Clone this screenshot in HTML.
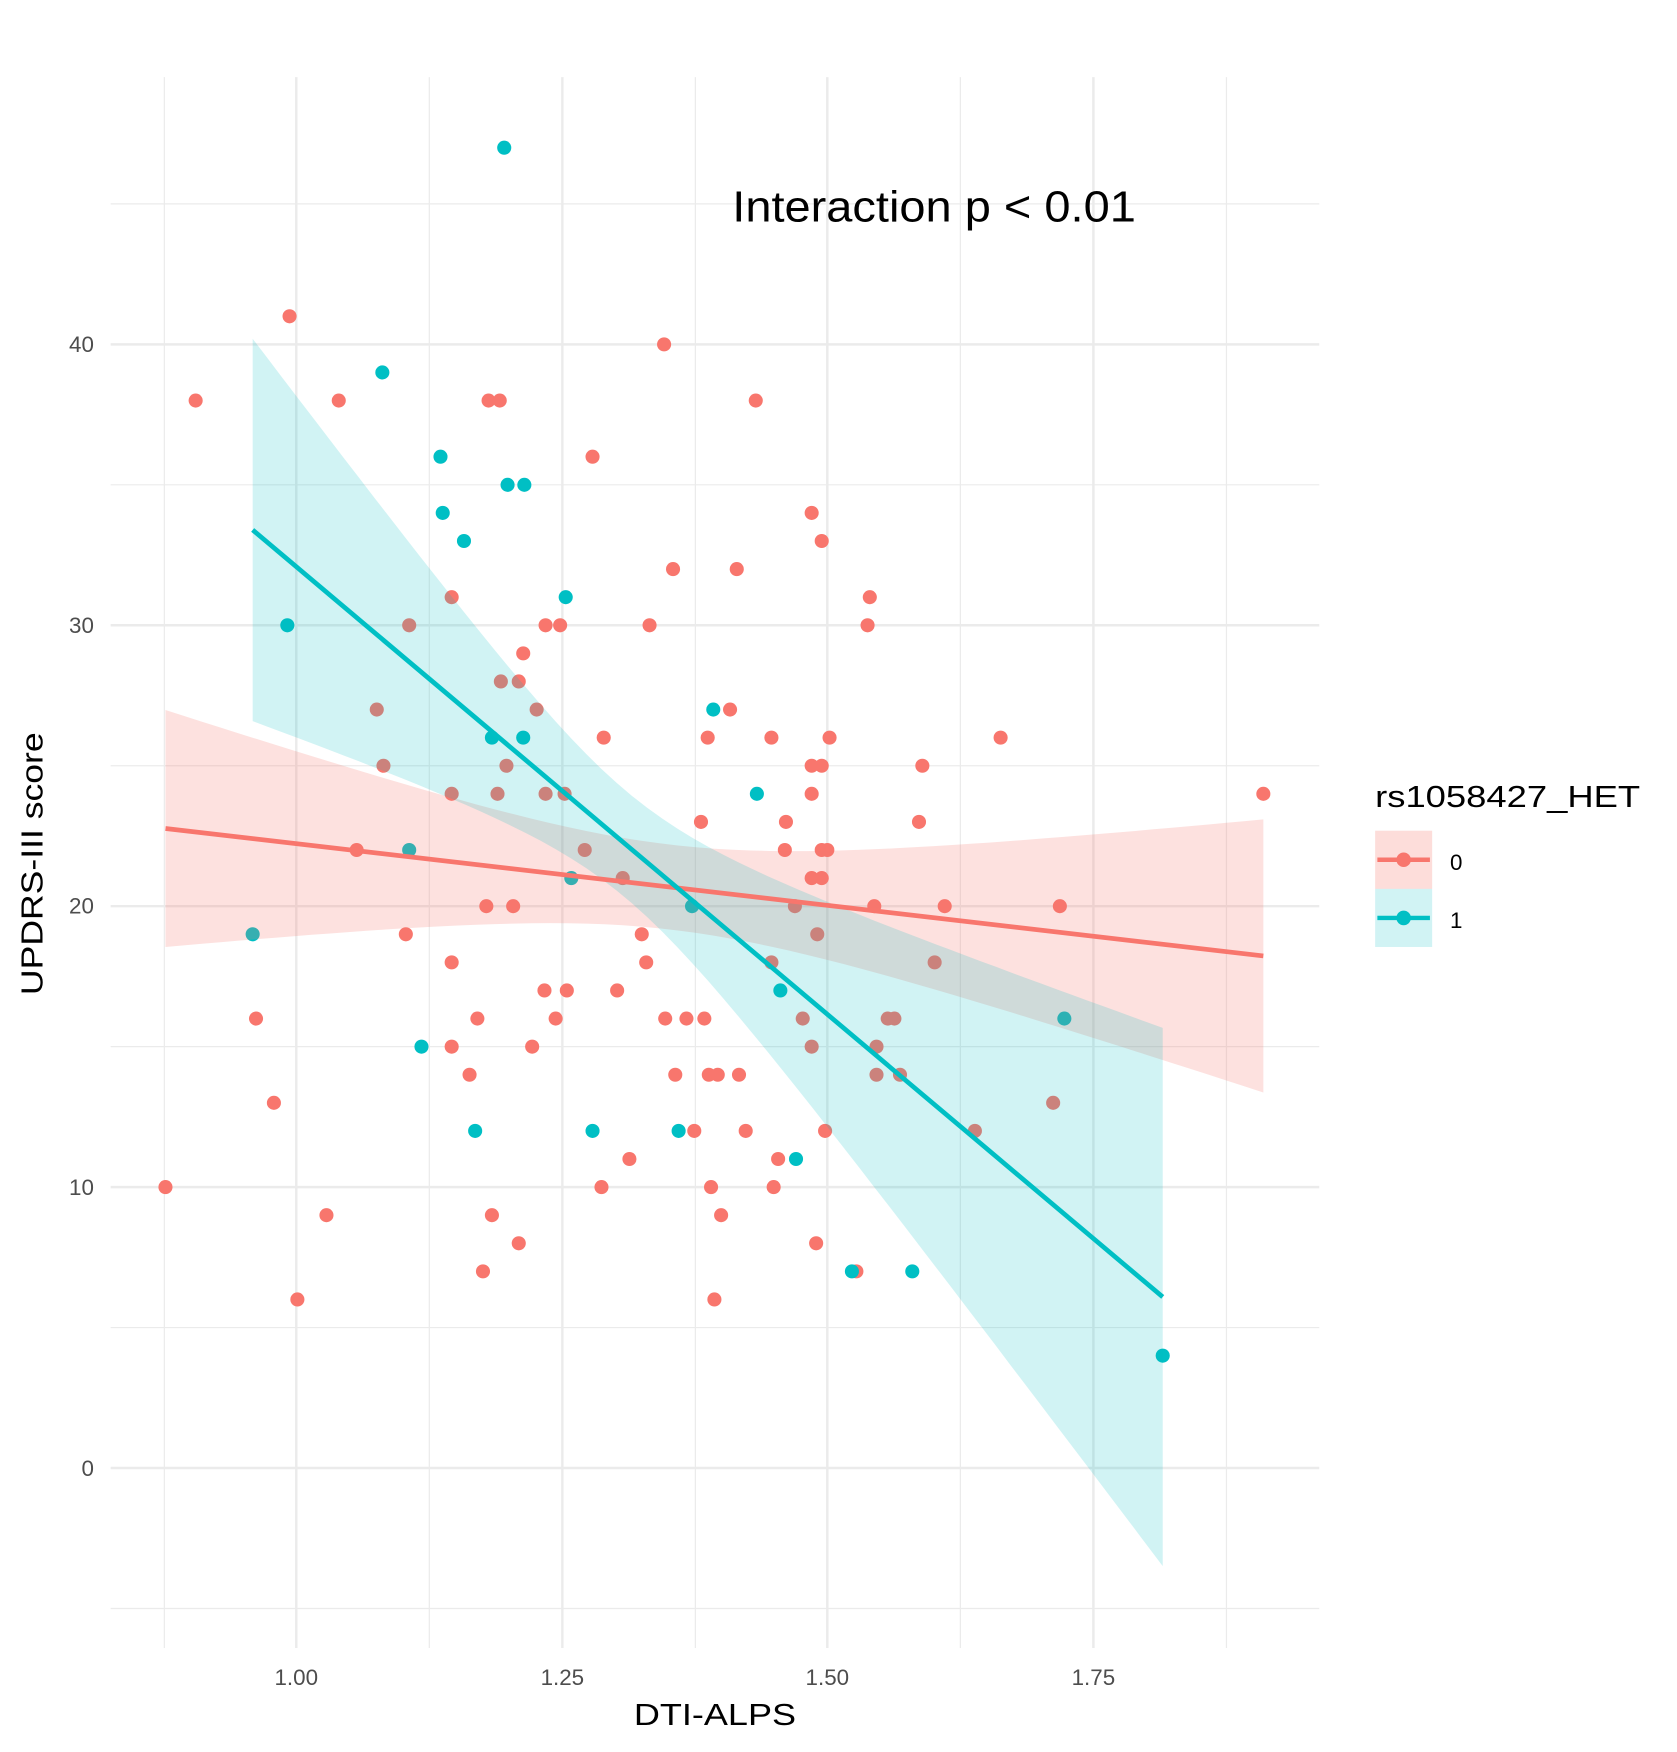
<!DOCTYPE html>
<html><head><meta charset="utf-8"><style>
html,body{margin:0;padding:0;background:#fff;}
svg{display:block;font-family:"Liberation Sans",Arial,sans-serif;}
</style></head><body>
<svg id="s" width="1677" height="1752" viewBox="0 0 1500 1567" preserveAspectRatio="none" xmlns="http://www.w3.org/2000/svg">
<g id="grid"></g>
<g id="pts"></g>
<g id="rib"></g>
<g id="lines"></g>
<text x="655" y="198" font-size="39" fill="#000" textLength="361" lengthAdjust="spacingAndGlyphs">Interaction p &lt; 0.01</text>
<g font-size="20" fill="#4d4d4d" text-anchor="end">
<text x="84" y="1320">0</text>
<text x="84" y="1069">10</text>
<text x="84" y="817">20</text>
<text x="84" y="566">30</text>
<text x="84" y="315">40</text>
</g>
<g font-size="20" fill="#4d4d4d" text-anchor="middle">
<text x="265" y="1507">1.00</text>
<text x="503" y="1507">1.25</text>
<text x="740" y="1507">1.50</text>
<text x="978" y="1507">1.75</text>
</g>
<text x="567" y="1543" font-size="27" fill="#000" textLength="145" lengthAdjust="spacingAndGlyphs">DTI-ALPS</text>
<text transform="translate(38,890) rotate(-90)" font-size="27" fill="#000" textLength="235" lengthAdjust="spacingAndGlyphs">UPDRS-III score</text>
<text x="1230" y="722" font-size="27" fill="#000" textLength="237" lengthAdjust="spacingAndGlyphs">rs1058427_HET</text>
<rect x="1230" y="743" width="51" height="52" fill="#F8766D" fill-opacity="0.25"/>
<rect x="1230" y="795" width="51" height="52" fill="#00BFC4" fill-opacity="0.18"/>
<line x1="1232" y1="769" x2="1279" y2="769" stroke="#F8766D" stroke-width="4"/>
<circle cx="1255.5" cy="769" r="6.5" fill="#F8766D"/>
<line x1="1232" y1="821" x2="1279" y2="821" stroke="#00BFC4" stroke-width="4"/>
<circle cx="1255.5" cy="821" r="6.5" fill="#00BFC4"/>
<text x="1297" y="778" font-size="20" fill="#000">0</text>
<text x="1297" y="830" font-size="20" fill="#000">1</text>
</svg>
<script>
var NS="http://www.w3.org/2000/svg";
function el(p,t,a){var e=document.createElementNS(NS,t);for(var k in a)e.setAttribute(k,a[k]);document.getElementById(p).appendChild(e);return e;}
function Y(s){return 1313-s*25.125;}
[147,384,622,859,1097].forEach(function(x){el("grid","line",{x1:x,y1:69,x2:x,y2:1474,stroke:"#ebebeb","stroke-width":1.1});});
[265,503,740,978].forEach(function(x){el("grid","line",{x1:x,y1:69,x2:x,y2:1474,stroke:"#ebebeb","stroke-width":2.2});});
[-5,5,15,25,35,45].forEach(function(s){el("grid","line",{x1:99,y1:Y(s),x2:1180,y2:Y(s),stroke:"#ebebeb","stroke-width":1.1});});
[0,10,20,30,40].forEach(function(s){el("grid","line",{x1:99,y1:Y(s),x2:1180,y2:Y(s),stroke:"#ebebeb","stroke-width":2.2});});
var red=[[175,38],[148,10],[259,41],[229,16],[245,13],[266,6],[292,9],[303,38],[319,22],[337,27],[343,25],[363,19],[366,30],[404,31],[404,24],[404,18],[404,15],[420,14],[427,16],[435,20],[437,38],[447,38],[440,9],[432,7],[445,24],[448,28],[453,25],[459,20],[464,28],[464,8],[468,29],[480,27],[476,15],[487,17],[488,30],[488,24],[497,16],[501,30],[505,24],[507,17],[523,22],[530,36],[540,26],[538,10],[552,17],[557,21],[563,11],[574,19],[578,18],[581,30],[594,40],[595,16],[602,32],[604,14],[614,16],[621,12],[627,23],[630,16],[633,26],[634,14],[636,10],[639,6],[642,14],[645,9],[653,27],[659,32],[661,14],[667,12],[676,38],[690,26],[690,18],[692,10],[696,11],[702,22],[703,23],[711,20],[718,16],[726,34],[726,25],[726,24],[726,21],[726,15],[730,8],[731,19],[735,33],[735,22],[735,25],[735,21],[738,12],[740,22],[742,26],[766,7],[776,30],[778,31],[782,20],[784,15],[784,14],[794,16],[800,16],[805,14],[822,23],[825,25],[836,18],[845,20],[872,12],[895,26],[942,13],[948,20],[1130,24]];
var teal=[[451,47],[342,39],[394,36],[396,34],[415,33],[454,35],[469,35],[506,31],[257,30],[226,19],[366,22],[377,15],[425,12],[440,26],[468,26],[511,21],[530,12],[607,12],[619,20],[638,27],[677,24],[698,17],[712,11],[762,7],[816,7],[952,16],[1040,4]];
red.forEach(function(p){el("pts","circle",{cx:p[0],cy:Y(p[1]),r:6.3,fill:"#F8766D"});});
teal.forEach(function(p){el("pts","circle",{cx:p[0],cy:Y(p[1]),r:6.3,fill:"#00BFC4"});});
function band(x0,y0,x1,y1,xm,h0,k,col,op){
 var up=[],lo=[];
 for(var i=0;i<=60;i++){var x=x0+(x1-x0)*i/60;var y=y0+(x-x0)*(y1-y0)/(x1-x0);var h=Math.sqrt(h0*h0+k*(x-xm)*(x-xm));up.push(x.toFixed(1)+","+(y-h).toFixed(1));lo.unshift(x.toFixed(1)+","+(y+h).toFixed(1));}
 el("rib","polygon",{points:up.concat(lo).join(" "),fill:col,"fill-opacity":op});
 el("lines","line",{x1:x0,y1:y0,x2:x1,y2:y1,stroke:col,"stroke-width":4.2});
}
band(148,741,1130,855,600,38,0.0479,"#F8766D",0.22);
band(226,474,1040,1160,560,48,0.2415,"#00BFC4",0.18);
</script>
</body></html>
